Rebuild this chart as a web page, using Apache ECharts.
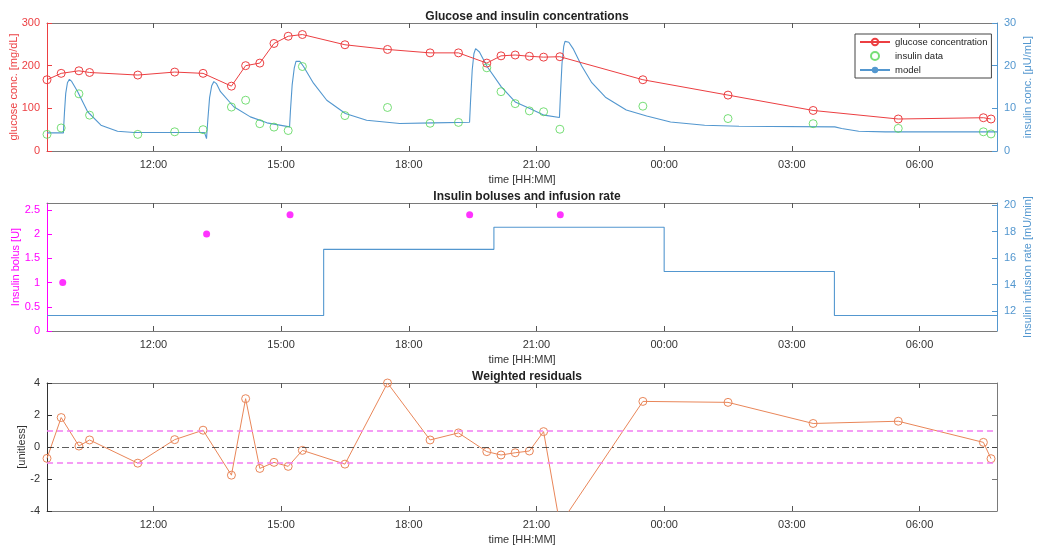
<!DOCTYPE html>
<html><head><meta charset="utf-8">
<script src="https://cdn.jsdelivr.net/npm/echarts@6/dist/echarts.min.js"></script>
<style>html,body{margin:0;padding:0;background:#fff}#c{width:1038px;height:549px}</style>
</head><body><div id="c"></div>
<script>
// ---------- DATA (time in hours since midnight of day 1) ----------
const sampleHours = [9.5, 9.833, 10.25, 10.5, 11.633, 12.5, 13.167, 13.833, 14.167, 14.5, 14.833, 15.167, 15.5, 16.5, 17.5, 18.5, 19.167, 19.833, 20.167, 20.5, 20.833, 21.167, 21.55, 23.5, 25.5, 27.5, 29.5, 31.5, 31.68];
const glucose = [167, 182, 188, 184, 178, 185, 182, 152, 200, 206, 252, 269, 273, 249, 238, 230, 230, 206, 223, 225, 222, 220, 221, 167, 131, 95, 75, 78, 75];
const insulinData = [3.9, 5.4, 13.4, 8.4, 3.9, 4.5, 5.0, 10.3, 11.9, 6.4, 5.6, 4.8, 19.8, 8.3, 10.2, 6.5, 6.7, 19.5, 13.9, 11.1, 9.4, 9.2, 5.1, 10.5, 7.6, 6.4, 5.3, 4.5, 4.0];
const residuals = [-0.71, 1.84, 0.06, 0.44, -1.01, 0.46, 1.05, -1.76, 3.02, -1.34, -0.96, -1.21, -0.21, -1.07, 4.0, 0.44, 0.88, -0.29, -0.50, -0.36, -0.25, 0.96, -4.85, 2.85, 2.79, 1.47, 1.61, 0.29, -0.73];
const modelCurve = [[9.5,4.24],[9.886,4.24],[9.89,5.3],[9.91,9.0],[9.94,13.5],[9.98,16.0],[10.026,16.8],[10.08,16.3],[10.221,13.9],[10.455,9.2],[10.767,6.05],[11.157,4.63],[11.547,4.32],[13.2,4.32],[13.248,2.9],[13.28,7.5],[13.32,12.5],[13.37,15.3],[13.42,16.26],[13.48,15.8],[13.576,13.9],[13.888,10.37],[14.278,8.0],[14.668,6.6],[15.199,5.65],[15.22,9.5],[15.26,15.5],[15.31,19.5],[15.35,21.0],[15.386,21.36],[15.44,21.0],[15.527,19.8],[15.761,15.9],[16.073,11.9],[16.51,8.8],[17.009,7.2],[17.789,6.45],[18.569,6.6],[19.428,6.75],[19.45,11.5],[19.49,19.0],[19.53,22.8],[19.57,24.0],[19.6,24.1],[19.66,23.2],[19.84,19.8],[20.17,15.1],[20.5,11.5],[20.83,10.0],[21.18,8.4],[21.54,7.85],[21.56,12.5],[21.6,20.5],[21.64,24.5],[21.67,25.7],[21.70,26.0],[21.76,25.5],[21.86,24.0],[22.06,20.0],[22.30,16.0],[22.62,12.6],[23.11,9.6],[23.59,8.2],[24.15,6.8],[24.95,6.05],[25.76,5.8],[28.01,5.65],[28.17,5.26],[28.57,4.63],[29.2,4.48],[31.82,4.48]];
const bolusHours = [9.87, 13.25, 15.21, 19.43, 21.56];
const bolusUnits = [1, 2, 2.4, 2.4, 2.4];
const infusionHours = [9.5, 16.0, 20.0, 24.0, 28.0, 31.82];
const infusionRate = [11.667, 16.667, 18.333, 15.0, 11.667, 11.667];
const xTickHours = [12, 15, 18, 21, 24, 27, 30];
const glucoseTicks = [0, 100, 200, 300];
const insulinTicks = [0, 10, 20, 30];
const bolusTicks = [0, 0.5, 1, 1.5, 2, 2.5];
const rateTicks = [12, 14, 16, 18, 20];
const residTicks = [-4, -2, 0, 2, 4];
const titles = ['Glucose and insulin concentrations', 'Insulin boluses and infusion rate', 'Weighted residuals'];

// ---------- STYLE ----------
const FONT = '"Liberation Sans", Arial, Helvetica, sans-serif';
const RED = '#ec3f42', GREEN = '#55d655', BLUE = '#5397cf', MAG = '#ff00ff', ORANGE = '#e98659', GRAY = '#7a7a7a';
const NONE = 'rgba(0,0,0,0)';
const X_MIN = 9.5, X_MAX = 31.82;
const gridTops = [23, 203, 383];
const GRID_H = 128, GRID_L = 47, GRID_R = 41;

const fmtHour = v => { const h = ((Math.round(v) % 24) + 24) % 24; return (h < 10 ? '0' : '') + h + ':00'; };

function xAxes(gi) {
  return [{
    type: 'value', gridIndex: gi, min: X_MIN, max: X_MAX, position: 'bottom',
    name: 'time [HH:MM]', nameLocation: 'middle', nameGap: 23, nameMoveOverlap: false,
    nameTextStyle: { fontFamily: FONT, fontSize: 11, color: '#333' },
    axisLine: { onZero: false, lineStyle: { color: GRAY } },
    axisTick: { inside: true, length: 5, customValues: xTickHours, lineStyle: { color: '#555' } },
    axisLabel: { customValues: xTickHours, formatter: fmtHour, fontFamily: FONT, fontSize: 11, color: '#333', margin: 8 },
    splitLine: { show: false }
  }, {
    type: 'value', gridIndex: gi, min: X_MIN, max: X_MAX, position: 'top',
    axisLine: { onZero: false, lineStyle: { color: GRAY } },
    axisTick: { inside: true, length: 5, customValues: xTickHours, lineStyle: { color: '#555' } },
    axisLabel: { show: false }, splitLine: { show: false }
  }];
}
function yAxis(gi, pos, min, max, ticks, color, name, gap, showLabels) {
  return {
    type: 'value', gridIndex: gi, position: pos, min: min, max: max,
    name: name, nameLocation: 'middle', nameGap: gap, nameRotate: 90, nameMoveOverlap: false,
    nameTextStyle: { fontFamily: FONT, fontSize: 11, color: color },
    axisLine: { show: true, onZero: false, lineStyle: { color: color } },
    axisTick: { show: true, inside: true, length: 5, customValues: ticks, lineStyle: { color: color } },
    axisLabel: { show: showLabels, customValues: ticks, fontFamily: FONT, fontSize: 11, color: color, margin: 7 },
    splitLine: { show: false }
  };
}
const zip = (a, b) => a.map((v, i) => [v, b[i]]);

const option = {
  animation: false,
  backgroundColor: '#fff',
  title: titles.map((t, i) => ({
    text: t, left: 522, textAlign: 'center', top: gridTops[i] - 17,
    textStyle: { fontFamily: FONT, fontSize: 12, fontWeight: 'bold', color: '#222' }
  })),
  legend: {
    data: ['glucose concentration', 'insulin data', 'model'],
    orient: 'vertical', left: 855, top: 34, itemWidth: 30, itemHeight: 8, itemGap: 4,
    backgroundColor: '#fff', borderColor: '#444', borderWidth: 1, borderRadius: 0, padding: [3, 4, 3, 4],
    textStyle: { fontFamily: FONT, fontSize: 9.5, color: '#222' }
  },
  grid: gridTops.map(t => ({ left: GRID_L, right: GRID_R, top: t, height: GRID_H, containLabel: false, outerBoundsMode: 'none' })),
  xAxis: [].concat(xAxes(0), xAxes(1), xAxes(2)),
  yAxis: [
    yAxis(0, 'left', 0, 300, glucoseTicks, RED, 'glucose conc. [mg/dL]', 28, true),
    yAxis(0, 'right', 0, 30, insulinTicks, BLUE, 'insulin conc. [\u03bcU/mL]', 25, true),
    yAxis(1, 'left', 0, 2.64, bolusTicks, MAG, 'Insulin bolus [U]', 26, true),
    yAxis(1, 'right', 10.5, 20.17, rateTicks, BLUE, 'Insulin infusion rate [mU/min]', 25, true),
    yAxis(2, 'left', -4, 4, residTicks, '#333', '[unitless]', 20, true),
    yAxis(2, 'right', -4, 4, residTicks, GRAY, '', 0, false)
  ],
  series: [
    { name: 'glucose concentration', type: 'line', xAxisIndex: 0, yAxisIndex: 0, data: zip(sampleHours, glucose),
      symbol: 'circle', symbolSize: 8, color: RED, lineStyle: { width: 1, color: RED }, itemStyle: { color: NONE, borderColor: RED, borderWidth: 1 }, z: 4 },
    { name: 'insulin data', type: 'scatter', xAxisIndex: 0, yAxisIndex: 1, data: zip(sampleHours, insulinData),
      symbol: 'circle', symbolSize: 8, color: GREEN, itemStyle: { color: NONE, borderColor: GREEN, borderWidth: 1 }, z: 3 },
    { name: 'model', type: 'line', xAxisIndex: 0, yAxisIndex: 1, data: modelCurve, showSymbol: false, symbol: 'none',
      color: BLUE, lineStyle: { width: 1.1, color: BLUE }, z: 2 },
    { name: 'bolus', type: 'scatter', xAxisIndex: 2, yAxisIndex: 2, data: zip(bolusHours, bolusUnits),
      symbol: 'circle', symbolSize: 7, itemStyle: { color: MAG } },
    { name: 'infusion', type: 'line', xAxisIndex: 2, yAxisIndex: 3, data: zip(infusionHours, infusionRate), step: 'end',
      showSymbol: false, symbol: 'none', lineStyle: { width: 1.1, color: BLUE } },
    { name: 'residuals', type: 'line', xAxisIndex: 4, yAxisIndex: 4, data: zip(sampleHours, residuals),
      symbol: 'circle', symbolSize: 8, clip: true, lineStyle: { width: 1, color: ORANGE }, itemStyle: { color: NONE, borderColor: ORANGE, borderWidth: 1 }, z: 4,
      markLine: { silent: true, symbol: 'none', label: { show: false }, animation: false,
        data: [
          { yAxis: 1, lineStyle: { color: '#f27cf2', width: 1.5, type: [6, 4] } },
          { yAxis: -1, lineStyle: { color: '#f27cf2', width: 1.5, type: [6, 4] } },
          { yAxis: 0, lineStyle: { color: '#333', width: 0.8, type: [7, 3, 2, 3] } }
        ] } }
  ]
};
const chart = echarts.init(document.getElementById('c'), null, { renderer: 'canvas' });
chart.setOption(option);
</script></body></html>
